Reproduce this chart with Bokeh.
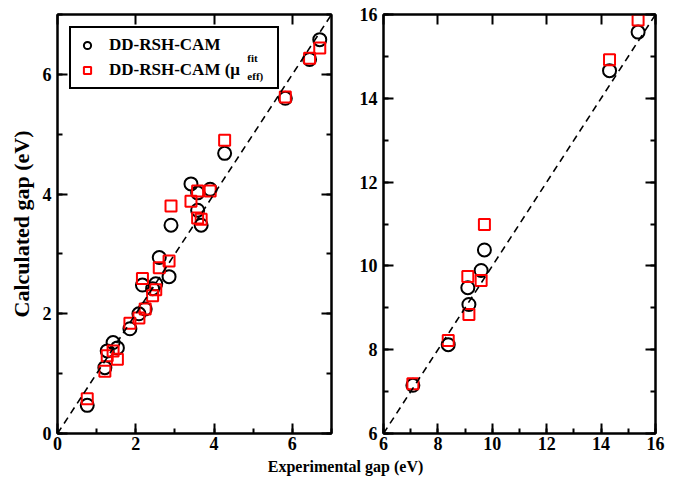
from bokeh.plotting import figure
from bokeh.models import (SingleIntervalTicker, LinearAxis, Range1d, Legend,
                          LegendItem, Label, Slope)
from bokeh.layouts import row, column
from bokeh.embed import file_html
from bokeh.resources import INLINE

# ---------------- data ----------------
left_exp = [0.76, 1.21, 1.27, 1.42, 1.53, 1.85, 2.08, 2.24, 2.17, 2.43, 2.51,
            2.60, 2.85, 2.90, 3.41, 3.58, 3.58, 3.67, 3.90, 4.27, 5.82, 6.44, 6.70]
left_cam = [0.47, 1.10, 1.38, 1.52, 1.43, 1.75, 2.00, 2.08, 2.48, 2.42, 2.50,
            2.94, 2.62, 3.48, 4.17, 4.02, 3.73, 3.48, 4.08, 4.68, 5.60, 6.25, 6.58]
left_fit = [0.58, 1.04, 1.30, 1.38, 1.24, 1.84, 1.93, 2.08, 2.59, 2.30, 2.40,
            2.77, 2.88, 3.80, 3.88, 4.05, 3.60, 3.58, 4.05, 4.90, 5.62, 6.27, 6.44]

right_exp = [7.08, 8.38, 9.10, 9.14, 9.59, 9.71, 14.31, 15.36]
right_cam = [7.15, 8.12, 9.48, 9.08, 9.89, 10.38, 14.66, 15.58]
right_fit = [7.19, 8.22, 9.75, 8.84, 9.65, 10.99, 14.92, 15.87]

series_names = ["DD-RSH-CAM", "DD-RSH-CAM (\u03bc"]
x_title = "Experimental gap (eV)"
y_title = "Calculated gap (eV)"

FONT = "Liberation Serif"


def style_axis(ax, show_labels=True, minor=True):
    ax.axis_line_width = 2
    ax.axis_line_color = "black"
    ax.major_tick_in = 10
    ax.major_tick_out = 0
    ax.major_tick_line_width = 2
    ax.minor_tick_in = 5 if minor else 0
    ax.minor_tick_out = 0
    ax.minor_tick_line_width = 2
    ax.major_label_text_font = FONT
    ax.major_label_text_font_style = "bold"
    if show_labels:
        ax.major_label_text_color = "black"
        ax.major_label_text_font_size = "18px"
    else:
        ax.major_label_text_color = None
        ax.major_label_text_font_size = "1px"
        ax.major_label_standoff = 0


def make_panel(xr, yr, xs, ycam, yfit, width, height, bl, br):
    p = figure(width=width, height=height, x_range=Range1d(*xr),
               y_range=Range1d(*yr), toolbar_location=None,
               output_backend="svg", min_border_left=bl, min_border_right=br,
               min_border_top=14, min_border_bottom=25,
               x_axis_type=None, y_axis_type=None)
    p.xgrid.visible = False
    p.ygrid.visible = False
    p.outline_line_color = "black"
    p.outline_line_width = 2
    p.background_fill_color = "white"
    p.border_fill_color = "white"

    def tk():
        return SingleIntervalTicker(interval=2, num_minor_ticks=2)

    xb = LinearAxis(ticker=tk())
    style_axis(xb)
    xb.major_label_standoff = 3
    p.add_layout(xb, "below")
    yl = LinearAxis(ticker=tk())
    style_axis(yl)
    yl.major_label_standoff = 6
    p.add_layout(yl, "left")
    xt = LinearAxis(ticker=tk())
    style_axis(xt, show_labels=False, minor=False)
    p.add_layout(xt, "above")
    yrr = LinearAxis(ticker=tk())
    style_axis(yrr, show_labels=False)
    p.add_layout(yrr, "right")

    p.add_layout(Slope(gradient=1, y_intercept=0, line_color="black",
                       line_width=1.6, line_dash="7 5"))

    c = p.scatter(xs, ycam, marker="circle", size=13, fill_color=None,
                  line_color="black", line_width=2)
    s = p.scatter(xs, yfit, marker="square", size=11, fill_color=None,
                  line_color="red", line_width=2)
    return p, yl, c, s


p1, yl1, c1, s1 = make_panel((0, 7), (0, 7), left_exp, left_cam, left_fit,
                             355, 458, 57, 24)
yl1.axis_label = y_title
yl1.axis_label_text_font = FONT
yl1.axis_label_text_font_style = "bold"
yl1.axis_label_text_font_size = "22px"
yl1.axis_label_text_color = "black"
yl1.axis_label_standoff = 6

leg = Legend(items=[LegendItem(label=series_names[0], renderers=[c1]),
                    LegendItem(label=series_names[1], renderers=[s1])],
             location="top_left")
leg.margin = 12
leg.padding = 7
leg.spacing = 5
leg.glyph_width = 18
leg.glyph_height = 20
leg.label_height = 20
leg.label_standoff = 13
leg.label_width = 161
leg.label_text_font = FONT
leg.label_text_font_style = "bold"
leg.label_text_font_size = "17px"
leg.label_text_color = "black"
leg.border_line_color = "black"
leg.border_line_alpha = 1.0
leg.border_line_width = 2
leg.background_fill_alpha = 0
p1.add_layout(leg)

p1.add_layout(Label(x=4.85, y=6.28, text="fit", text_font=FONT,
                    text_font_style="bold", text_font_size="11px",
                    text_color="black", text_baseline="middle",
                    level="overlay"))
p1.add_layout(Label(x=4.85, y=5.97, text="eff)", text_font=FONT,
                    text_font_style="bold", text_font_size="11px",
                    text_color="black", text_baseline="middle",
                    level="overlay"))

p2, yl2, c2, s2 = make_panel((6, 16), (6, 16), right_exp, right_cam, right_fit,
                             334, 458, 28, 34)

px = figure(width=689, height=25, x_range=Range1d(0, 689),
            y_range=Range1d(0, 25), toolbar_location=None,
            output_backend="svg", min_border=0,
            x_axis_type=None, y_axis_type=None)
px.xgrid.visible = False
px.ygrid.visible = False
px.outline_line_color = None
px.add_layout(Label(x=345, y=17, text=x_title, text_font=FONT,
                    text_font_style="bold", text_font_size="16px",
                    text_color="black",
                    text_align="center", text_baseline="middle"))

layout = column(row(p1, p2), px)
open("out.html", "w").write(file_html(layout, INLINE))
